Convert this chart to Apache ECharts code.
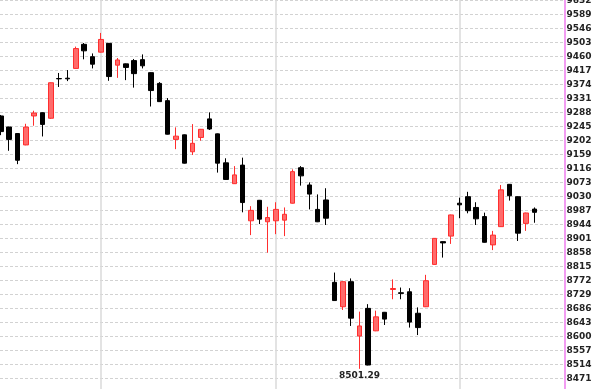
<!DOCTYPE html>
<html>
<head>
<meta charset="utf-8">
<script src="https://cdn.jsdelivr.net/npm/echarts@6/dist/echarts.min.js"></script>
<style>
html,body{margin:0;padding:0;background:#fff;}
#chart{width:600px;height:389px;}
</style>
</head>
<body>
<div id="chart"></div>
<script>
// Category slots (65 trading days shown + 3 empty slots at the right)
const categories = [];
for (let i = 1; i <= 68; i++) categories.push('D' + i);

const opens = [9278,9244,9224,9189,9278,9288,9271,9393,9394,9424,9498,9460,9474,9501,9434,9438,9448,9451,9411,9378,9325,9206,9220,9168,9212,9269,9223,9134,9070,9127,8956,9019,8953,8956,8958,9010,9119,9066,8991,9020,8767,8692,8769,8602,8687,8618,8675,8745,8735,8738,8672,8692,8822,8892,8909,9010,9030,8997,8969,8882,8938,9068,9030,8948,8992];
const closes = [9230,9206,9142,9244,9287,9252,9380,9392,9392,9485,9478,9437,9513,9399,9450,9427,9408,9432,9356,9322,9222,9216,9133,9194,9237,9238,9133,9083,9097,9012,8988,8961,8966,8991,8976,9107,9094,9038,8953,8964,8711,8769,8657,8633,8513,8661,8654,8748,8733,8645,8628,8772,8902,8888,8974,9005,8987,8962,8890,8912,9051,9033,8918,8980,8982];
const lows = [9219,9171,9130,9188,9248,9215,9269,9367,9385,9423,9452,9424,9473,9386,9395,9388,9365,9424,9307,9321,9221,9176,9132,9158,9202,9235,9104,9082,9069,8982,8912,8946,8858,8915,8909,9009,9064,8991,8952,8943,8710,8682,8633,8501.29,8512,8617,8636,8715,8715,8628,8605,8691,8821,8843,8885,8964,8979,8943,8889,8866,8937,9018,8894,8925,8950];
const highs = [9281,9245,9225,9254,9294,9289,9381,9410,9419,9491,9502,9470,9533,9502,9456,9439,9453,9467,9412,9382,9333,9243,9221,9253,9238,9289,9224,9148,9124,9150,9001,9020,8999,9013,8997,9114,9124,9074,9037,9056,8797,8770,8779,8677,8700,8680,8676,8776,8751,8749,8690,8790,8903,8893,8975,9027,9045,9013,8981,8925,9066,9069,9031,8981,8997];

// Month-boundary vertical guide lines (category indices)
const monthLines = [12, 33, 55];

// Y axis ticks: multiples of 43
const yMin = 8428, yMax = 9675, yStep = 43;

const candleData = opens.map((o, i) => [o, closes[i], lows[i], highs[i]]);

const chart = echarts.init(document.getElementById('chart'), null, {renderer: 'canvas'});
chart.setOption({
  animation: false,
  backgroundColor: '#ffffff',
  grid: [
    {left: 0.8, right: 40.4, top: -13.3, bottom: -3.7, outerBoundsMode: 'none', containLabel: false},
    {left: 0, right: 35.5, top: -13.3, bottom: -3.7, outerBoundsMode: 'none', containLabel: false}
  ],
  xAxis: [
    {
      type: 'category', gridIndex: 0, data: categories, boundaryGap: false,
      axisLine: {show: false}, axisTick: {show: false}, axisLabel: {show: false},
      splitLine: {
        show: true,
        interval: (idx) => monthLines.indexOf(idx) >= 0,
        lineStyle: {color: '#dadada', width: 1.5}
      }
    },
    {type: 'value', gridIndex: 1, min: 0, max: 1, show: false}
  ],
  yAxis: [
    {type: 'value', gridIndex: 0, min: yMin, max: yMax, interval: yStep, show: false},
    {
      type: 'value', gridIndex: 1, position: 'right', min: yMin, max: yMax, interval: yStep,
      axisLine: {show: true, onZero: false, lineStyle: {color: '#f29cf2', width: 2}},
      axisTick: {show: false},
      axisLabel: {
        show: true, margin: 2, color: '#222', fontSize: 9, fontWeight: 'bold',
        fontFamily: 'DejaVu Sans', showMinLabel: false, showMaxLabel: false,
        formatter: (v) => String(v)
      },
      splitLine: {show: true, lineStyle: {color: '#d2d2d2', width: 1, type: [3, 2]}}
    }
  ],
  series: [{
    type: 'candlestick',
    xAxisIndex: 0, yAxisIndex: 0,
    data: candleData,
    barWidth: 5,
    itemStyle: {
      color: '#ff6b6b', borderColor: '#ff2e2e',
      color0: '#000000', borderColor0: '#000000',
      borderWidth: 1
    },
    markPoint: {
      symbol: 'rect', symbolSize: [1, 1],
      itemStyle: {color: 'rgba(0,0,0,0)'},
      label: {
        show: true, position: 'bottom', distance: 2,
        color: '#222', fontSize: 9, fontWeight: 'bold', fontFamily: 'DejaVu Sans',
        formatter: (p) => Number(p.value).toFixed(2)
      },
      data: [{type: 'min', valueDim: 'lowest', name: 'low'}]
    }
  }]
});
</script>
</body>
</html>
